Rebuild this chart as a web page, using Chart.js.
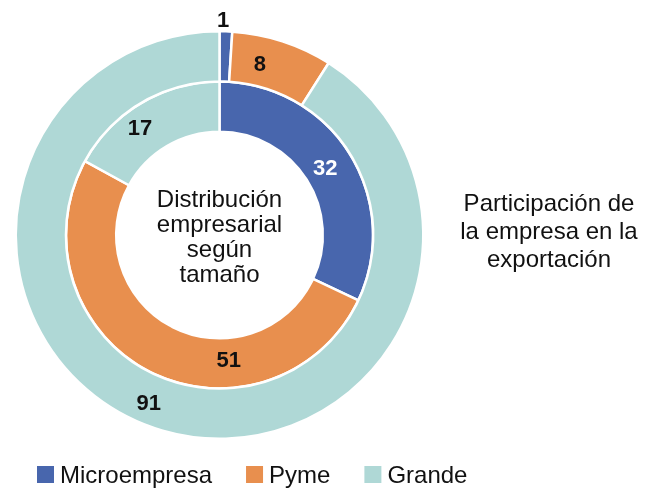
<!DOCTYPE html>
<html>
<head>
<meta charset="utf-8">
<script src="https://cdn.jsdelivr.net/npm/chart.js@4.4.1/dist/chart.umd.min.js"></script>
<style>
  html, body { margin: 0; padding: 0; background: #fff; }
  #wrap { width: 646px; height: 488px; }
</style>
</head>
<body>
<div id="wrap"><canvas id="grafico" width="646" height="488"></canvas></div>
<script>
var categorias = ['Microempresa', 'Pyme', 'Grande'];
var exportacion = [1, 8, 91];      // anillo exterior
var distribucion = [32, 51, 17];   // anillo interior
var colores = ['#4866ad', '#e88f4e', '#afd8d6'];
var textoCentro = ['Distribución', 'empresarial', 'según', 'tamaño'];
var textoDerecha = ['Participación de', 'la empresa en la', 'exportación'];

// donde va cada etiqueta dentro de su arco (fraccion del angulo, fraccion del grosor)
var etiquetaAngulo = [[0.26, 0.34, 0.52], [0.505, 0.33, 0.40]];
var etiquetaRadio = [[1.21, 0.42, 0.58], [0.42, 0.46, 0.59]];
var etiquetaColor = [['#111', '#111', '#111'], ['#fff', '#111', '#111']];

var fuente = '"Liberation Sans", Arial, sans-serif';

var etiquetas = {
  id: 'etiquetas',
  afterDatasetsDraw: function(chart) {
    var ctx = chart.ctx;
    ctx.save();
    ctx.font = 'bold 22px ' + fuente;
    ctx.textAlign = 'center';
    ctx.textBaseline = 'middle';
    chart.data.datasets.forEach(function(ds, d) {
      var meta = chart.getDatasetMeta(d);
      meta.data.forEach(function(arc, i) {
        var p = arc.getProps(['x', 'y', 'startAngle', 'endAngle', 'innerRadius', 'outerRadius'], true);
        var a = p.startAngle + etiquetaAngulo[d][i] * (p.endAngle - p.startAngle);
        var r = p.innerRadius + etiquetaRadio[d][i] * (p.outerRadius - p.innerRadius);
        ctx.fillStyle = etiquetaColor[d][i];
        ctx.fillText(String(ds.data[i]), p.x + r * Math.cos(a), p.y + r * Math.sin(a));
      });
    });
    ctx.restore();
  }
};

var textos = {
  id: 'textos',
  afterDraw: function(chart) {
    var ctx = chart.ctx;
    var area = chart.chartArea;
    var cx = (area.left + area.right) / 2;
    var cy = (area.top + area.bottom) / 2;
    ctx.save();
    ctx.font = '24px ' + fuente;
    ctx.fillStyle = '#111';
    ctx.textAlign = 'center';
    ctx.textBaseline = 'alphabetic';
    textoCentro.forEach(function(t, i) {
      ctx.fillText(t, cx, cy - 28 + i * 25);
    });
    textoDerecha.forEach(function(t, i) {
      ctx.fillText(t, 549, 211 + i * 28);
    });

    // leyenda
    ctx.textAlign = 'left';
    var x = 37;
    categorias.forEach(function(c, i) {
      ctx.fillStyle = colores[i];
      ctx.fillRect(x, 466, 17, 17);
      ctx.fillStyle = '#111';
      ctx.fillText(c, x + 23, 483);
      x += 23 + ctx.measureText(c).width + 34;
    });
    ctx.restore();
  }
};

var ctx = document.getElementById('grafico').getContext('2d');
var grafico = new Chart(ctx, {
  type: 'doughnut',
  data: {
    labels: categorias,
    datasets: [{
      label: 'Participación en la exportación',
      data: exportacion,
      backgroundColor: colores,
      borderColor: '#fff',
      borderWidth: 2.5
    }, {
      label: 'Distribución empresarial',
      data: distribucion,
      backgroundColor: colores,
      borderColor: '#fff',
      borderWidth: 2.5
    }]
  },
  options: {
    responsive: false,
    animation: false,
    cutout: '50.7%',
    layout: { padding: { left: 14, right: 221, top: 30, bottom: 48 } },
    plugins: {
      legend: { display: false },
      tooltip: { enabled: false }
    }
  },
  plugins: [etiquetas, textos]
});
</script>
</body>
</html>
